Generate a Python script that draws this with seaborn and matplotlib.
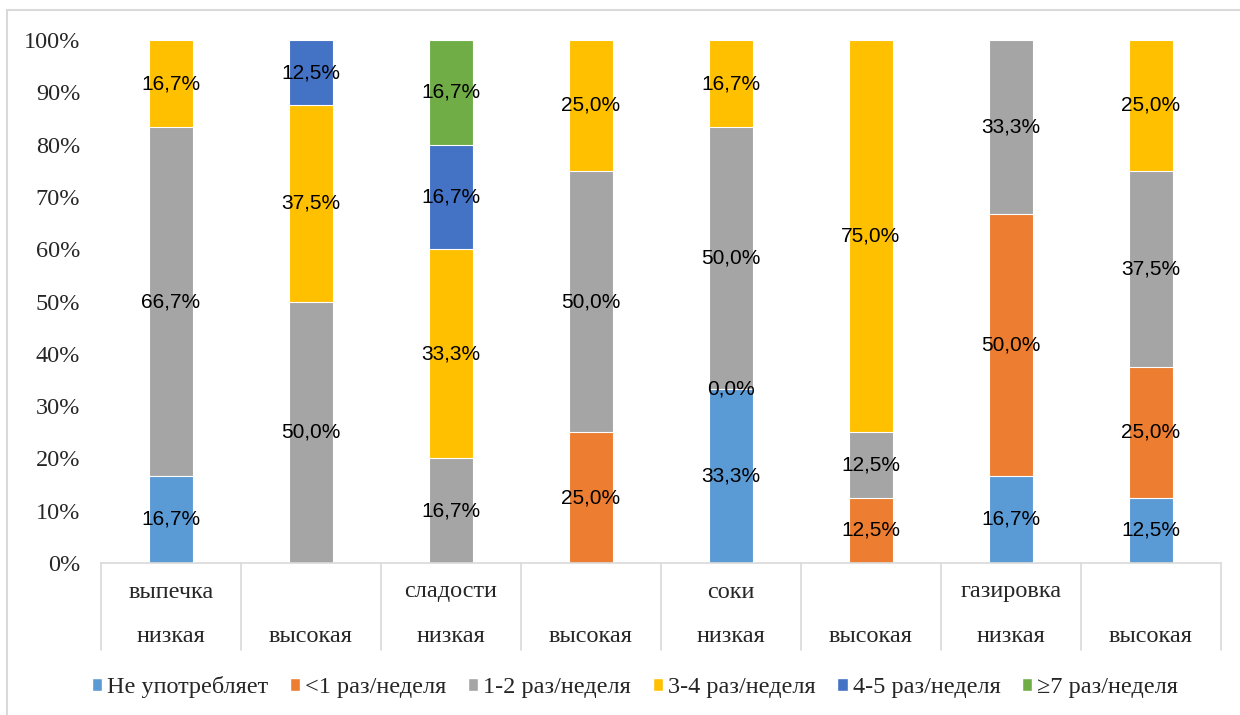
import numpy as np, pandas as pd
import matplotlib
matplotlib.use("Agg")
import matplotlib.pyplot as plt
from matplotlib.lines import Line2D
from matplotlib.patches import Patch
import seaborn as sns

groups = ["выпечка", "", "сладости", "", "соки", "", "газировка", ""]
levels = ["низкая", "высокая", "низкая", "высокая", "низкая", "высокая", "низкая", "высокая"]
series = ["Не употребляет", "<1 раз/неделя", "1-2 раз/неделя", "3-4 раз/неделя", "4-5 раз/неделя", "≥7 раз/неделя"]
colors = ["#5B9BD5", "#ED7D31", "#A5A5A5", "#FFC000", "#4472C4", "#70AD47"]

# values per series (nan = no segment / no label)
ne_upotr = [16.7, np.nan, np.nan, np.nan, 33.3, np.nan, 16.7, 12.5]
lt1 = [np.nan, np.nan, np.nan, 25.0, 0.0, 12.5, 50.0, 25.0]
r12 = [66.7, 50.0, 16.7, 50.0, 50.0, 12.5, 33.3, 37.5]
r34 = [16.7, 37.5, 33.3, 25.0, 16.7, 75.0, np.nan, 25.0]
r45 = [np.nan, 12.5, 16.7, np.nan, np.nan, np.nan, np.nan, np.nan]
r7 = [np.nan, np.nan, 16.7, np.nan, np.nan, np.nan, np.nan, np.nan]

cat_ids = [f"c{i}" for i in range(len(levels))]  # unique keys for seaborn
vals = pd.DataFrame(dict(zip(series, [ne_upotr, lt1, r12, r34, r45, r7])), index=cat_ids)
# 100% stacked: normalise each bar
filled = vals.fillna(0)
share = filled.div(filled.sum(axis=1), axis=0) * 100
cum = share.cumsum(axis=1)

sns.set_style("white")
plt.rcParams["font.family"] = ["Liberation Serif", "DejaVu Serif"]
FS = 17.5

fig = plt.figure(figsize=(12.4, 7.15), dpi=100)
ax = fig.add_axes([101 / 1240, 1 - 563 / 715, 1120 / 1240, 523 / 715])

# draw cumulative bars from top series down so lower ones overlay
for s, c in reversed(list(zip(series, colors))):
    df = pd.DataFrame({"cat": cat_ids, "top": cum[s].values})
    sns.barplot(data=df, x="cat", y="top", order=cat_ids, color=c, width=0.31, ax=ax,
                edgecolor="white", linewidth=0.8, saturation=1)

# data labels
for i, cid in enumerate(cat_ids):
    for s in series:
        v = vals.at[cid, s]
        if np.isnan(v):
            continue
        y = cum.at[cid, s] - share.at[cid, s] / 2
        ax.text(i, y, f"{v:.1f}%".replace(".", ","), ha="center", va="center",
                fontsize=15, family="Liberation Sans", color="black")

ax.set_xlim(-0.5, 7.5)
ax.set_ylim(0, 100)
ax.set_yticks(range(0, 101, 10))
ax.set_yticklabels([f"{t}%" for t in range(0, 101, 10)], fontsize=FS)
ax.tick_params(axis="y", length=0, pad=15)
ax.set_xticks([])
ax.set_xlabel("")
ax.set_ylabel("")
for sp in ["top", "right", "left"]:
    ax.spines[sp].set_visible(False)
ax.spines["bottom"].set_color("#D9D9D9")
ax.spines["bottom"].set_linewidth(1.2)

# category table below axis
tr = ax.get_xaxis_transform()
for x in np.arange(-0.5, 8, 1):
    ax.add_line(Line2D([x, x], [0, -87 / 523], transform=tr, color="#D9D9D9",
                       lw=1.2, clip_on=False))
for i, (g, l) in enumerate(zip(groups, levels)):
    ax.text(i, -29 / 523, g, transform=tr, ha="center", va="center", fontsize=FS)
    ax.text(i, -74 / 523, l, transform=tr, ha="center", va="center", fontsize=FS)

# chart border (top and left visible)
fig.add_artist(Line2D([7 / 1240, 1], [1 - 10 / 715] * 2, transform=fig.transFigure,
                      color="#D9D9D9", lw=1.5))
fig.add_artist(Line2D([7 / 1240] * 2, [0, 1 - 10 / 715], transform=fig.transFigure,
                      color="#D9D9D9", lw=1.5))

handles = [Patch(facecolor=c, label=s) for s, c in zip(series, colors)]
fig.legend(handles=handles, loc="center", bbox_to_anchor=(635 / 1240, 1 - 687 / 715),
           ncol=6, frameon=False, fontsize=FS, handlelength=0.42, handleheight=0.42,
           handletextpad=0.2, columnspacing=0.9)

fig.savefig("out.png", dpi=100)
